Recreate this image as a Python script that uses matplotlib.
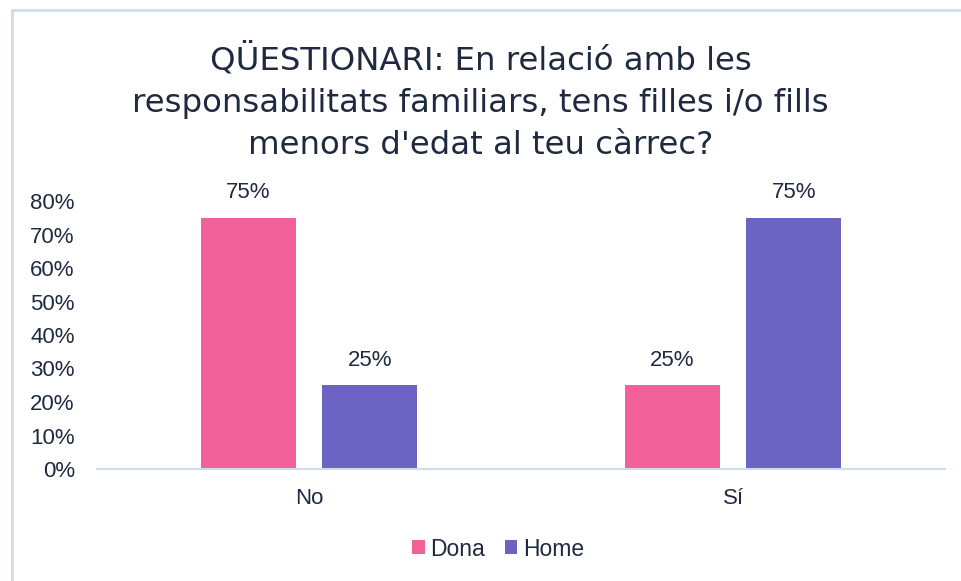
import matplotlib.pyplot as plt
import numpy as np
from matplotlib.patches import Rectangle

categories = ['No', 'Sí']
dona = [0.75, 0.25]
home = [0.25, 0.75]
series_names = ['Dona', 'Home']
yticks = [0, 0.1, 0.2, 0.3, 0.4, 0.5, 0.6, 0.7, 0.8]

PINK = '#F2609A'
PURPLE = '#6D63C2'
TEXT = '#1F2A40'
LINE = '#CFDCEF'

fig = plt.figure(figsize=(9.61, 5.81), dpi=100)
fig.patch.set_facecolor('white')
# outer chart border (left and top visible)
fig.add_artist(Rectangle((12 / 961, -0.05), 1.2, 1 - 10 / 581 + 0.05,
                         transform=fig.transFigure, fill=False,
                         edgecolor=LINE, linewidth=2))

ax = fig.add_axes([97 / 961, 1 - 469 / 581, 848 / 961, (469 - 201) / 581])
x = np.arange(len(categories))
w = 0.224
off = 0.143
b1 = ax.bar(x - off, dona, w, color=PINK, label=series_names[0])
b2 = ax.bar(x + off, home, w, color=PURPLE, label=series_names[1])
for bars in (b1, b2):
    for r in bars:
        ax.text(r.get_x() + r.get_width() / 2, r.get_height() + 0.074,
                f'{r.get_height():.0%}', ha='center', va='center',
                fontsize=16, color=TEXT, family='Liberation Sans')

ax.set_xlim(-0.5, 1.5)
ax.set_ylim(0, 0.8)
ax.set_yticks(yticks)
ax.set_yticklabels([f'{v:.0%}' for v in yticks])
ax.set_xticks(x)
ax.set_xticklabels(categories)
for s in ('top', 'right', 'left'):
    ax.spines[s].set_visible(False)
ax.spines['bottom'].set_color(LINE)
ax.spines['bottom'].set_linewidth(1.5)
ax.tick_params(axis='both', length=0, labelsize=16, colors=TEXT)
ax.tick_params(axis='x', pad=14)
ax.tick_params(axis='y', pad=16)
for lab in ax.get_xticklabels() + ax.get_yticklabels():
    lab.set_family('Liberation Sans')

fig.text(0.5, 1 - 102 / 581,
         "QÜESTIONARI: En relació amb les\nresponsabilitats familiars, tens filles i/o fills\nmenors d'edat al teu càrrec?",
         ha='center', va='center', fontsize=23.3, color=TEXT,
         family='DejaVu Sans', linespacing=1.45)

fig.legend(handles=[b1, b2], loc='center', bbox_to_anchor=(498 / 961, 1 - 549 / 581),
           ncol=2, frameon=False, prop={'family': 'Liberation Sans', 'size': 16.5},
           handlelength=0.55, handleheight=0.55, handletextpad=0.25, columnspacing=0.85,
           labelcolor=TEXT)

fig.savefig('out.png', dpi=100, facecolor='white')
